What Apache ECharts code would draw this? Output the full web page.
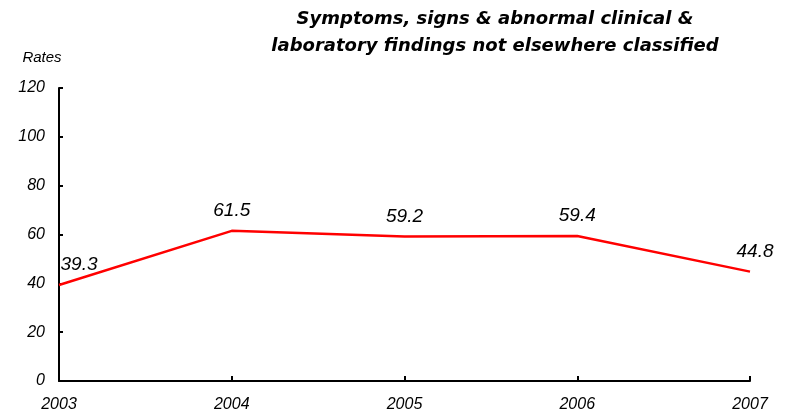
<!DOCTYPE html>
<html><head><meta charset="utf-8">
<script src="https://cdn.jsdelivr.net/npm/echarts@6/dist/echarts.min.js"></script>
<style>html,body{margin:0;padding:0;background:#fff}#c{width:787px;height:419px}</style>
</head><body><div id="c"></div>
<script>
const years = ['2003','2004','2005','2006','2007'];
const rates = [39.3, 61.5, 59.2, 59.4, 44.8];
const yTicks = [0, 20, 40, 60, 80, 100, 120];
const titleText = 'Symptoms, signs & abnormal clinical &\nlaboratory findings not elsewhere classified';

const chart = echarts.init(document.getElementById('c'));
const font = 'Liberation Sans, Arial, sans-serif';
chart.setOption({
  animation: false,
  title: {
    text: titleText, left: 490, top: 1, textAlign: 'center',
    textStyle: {fontFamily: 'DejaVu Sans, sans-serif', fontSize: 18, fontWeight: 'bold', fontStyle: 'italic', color: '#000', lineHeight: 27}
  },
  grid: {left: 59, right: 37, top: 88, bottom: 38, containLabel: false},
  xAxis: {
    type: 'category', data: years, boundaryGap: false,
    axisLine: {lineStyle: {color: '#000', width: 2}},
    axisTick: {inside: true, length: 5, lineStyle: {color: '#000', width: 2}},
    axisLabel: {fontFamily: font, fontStyle: 'italic', fontSize: 16, color: '#000', margin: 16}
  },
  yAxis: {
    type: 'value', min: yTicks[0], max: yTicks[yTicks.length-1], interval: 20,
    name: 'Rates', nameLocation: 'end', nameGap: 23,
    nameTextStyle: {fontFamily: font, fontStyle: 'italic', fontSize: 15, color: '#000', align: 'center', padding: [0, 0, 0, -34]},
    axisLine: {show: true, lineStyle: {color: '#000', width: 2}},
    axisTick: {show: true, inside: true, length: 4, lineStyle: {color: '#000', width: 2}},
    axisLabel: {fontFamily: font, fontStyle: 'italic', fontSize: 16, color: '#000', margin: 14},
    splitLine: {show: false}
  },
  series: [{
    type: 'line', data: rates, symbol: 'circle', symbolSize: 1, showSymbol: true,
    itemStyle: {color: 'rgba(255,0,0,0)'},
    lineStyle: {color: '#ff0000', width: 2.5},
    label: {
      show: true, position: 'top', distance: 10,
      fontFamily: font, fontStyle: 'italic', fontSize: 19, color: '#000',
      formatter: p => p.value.toFixed(1)
    },
    labelLayout: function (params) {
      if (params.dataIndex === 0) {
        return {dx: 20};
      }
      if (params.dataIndex === rates.length - 1) {
        return {dx: 5};
      }
      return {};
    }
  }]
});
</script></body></html>
